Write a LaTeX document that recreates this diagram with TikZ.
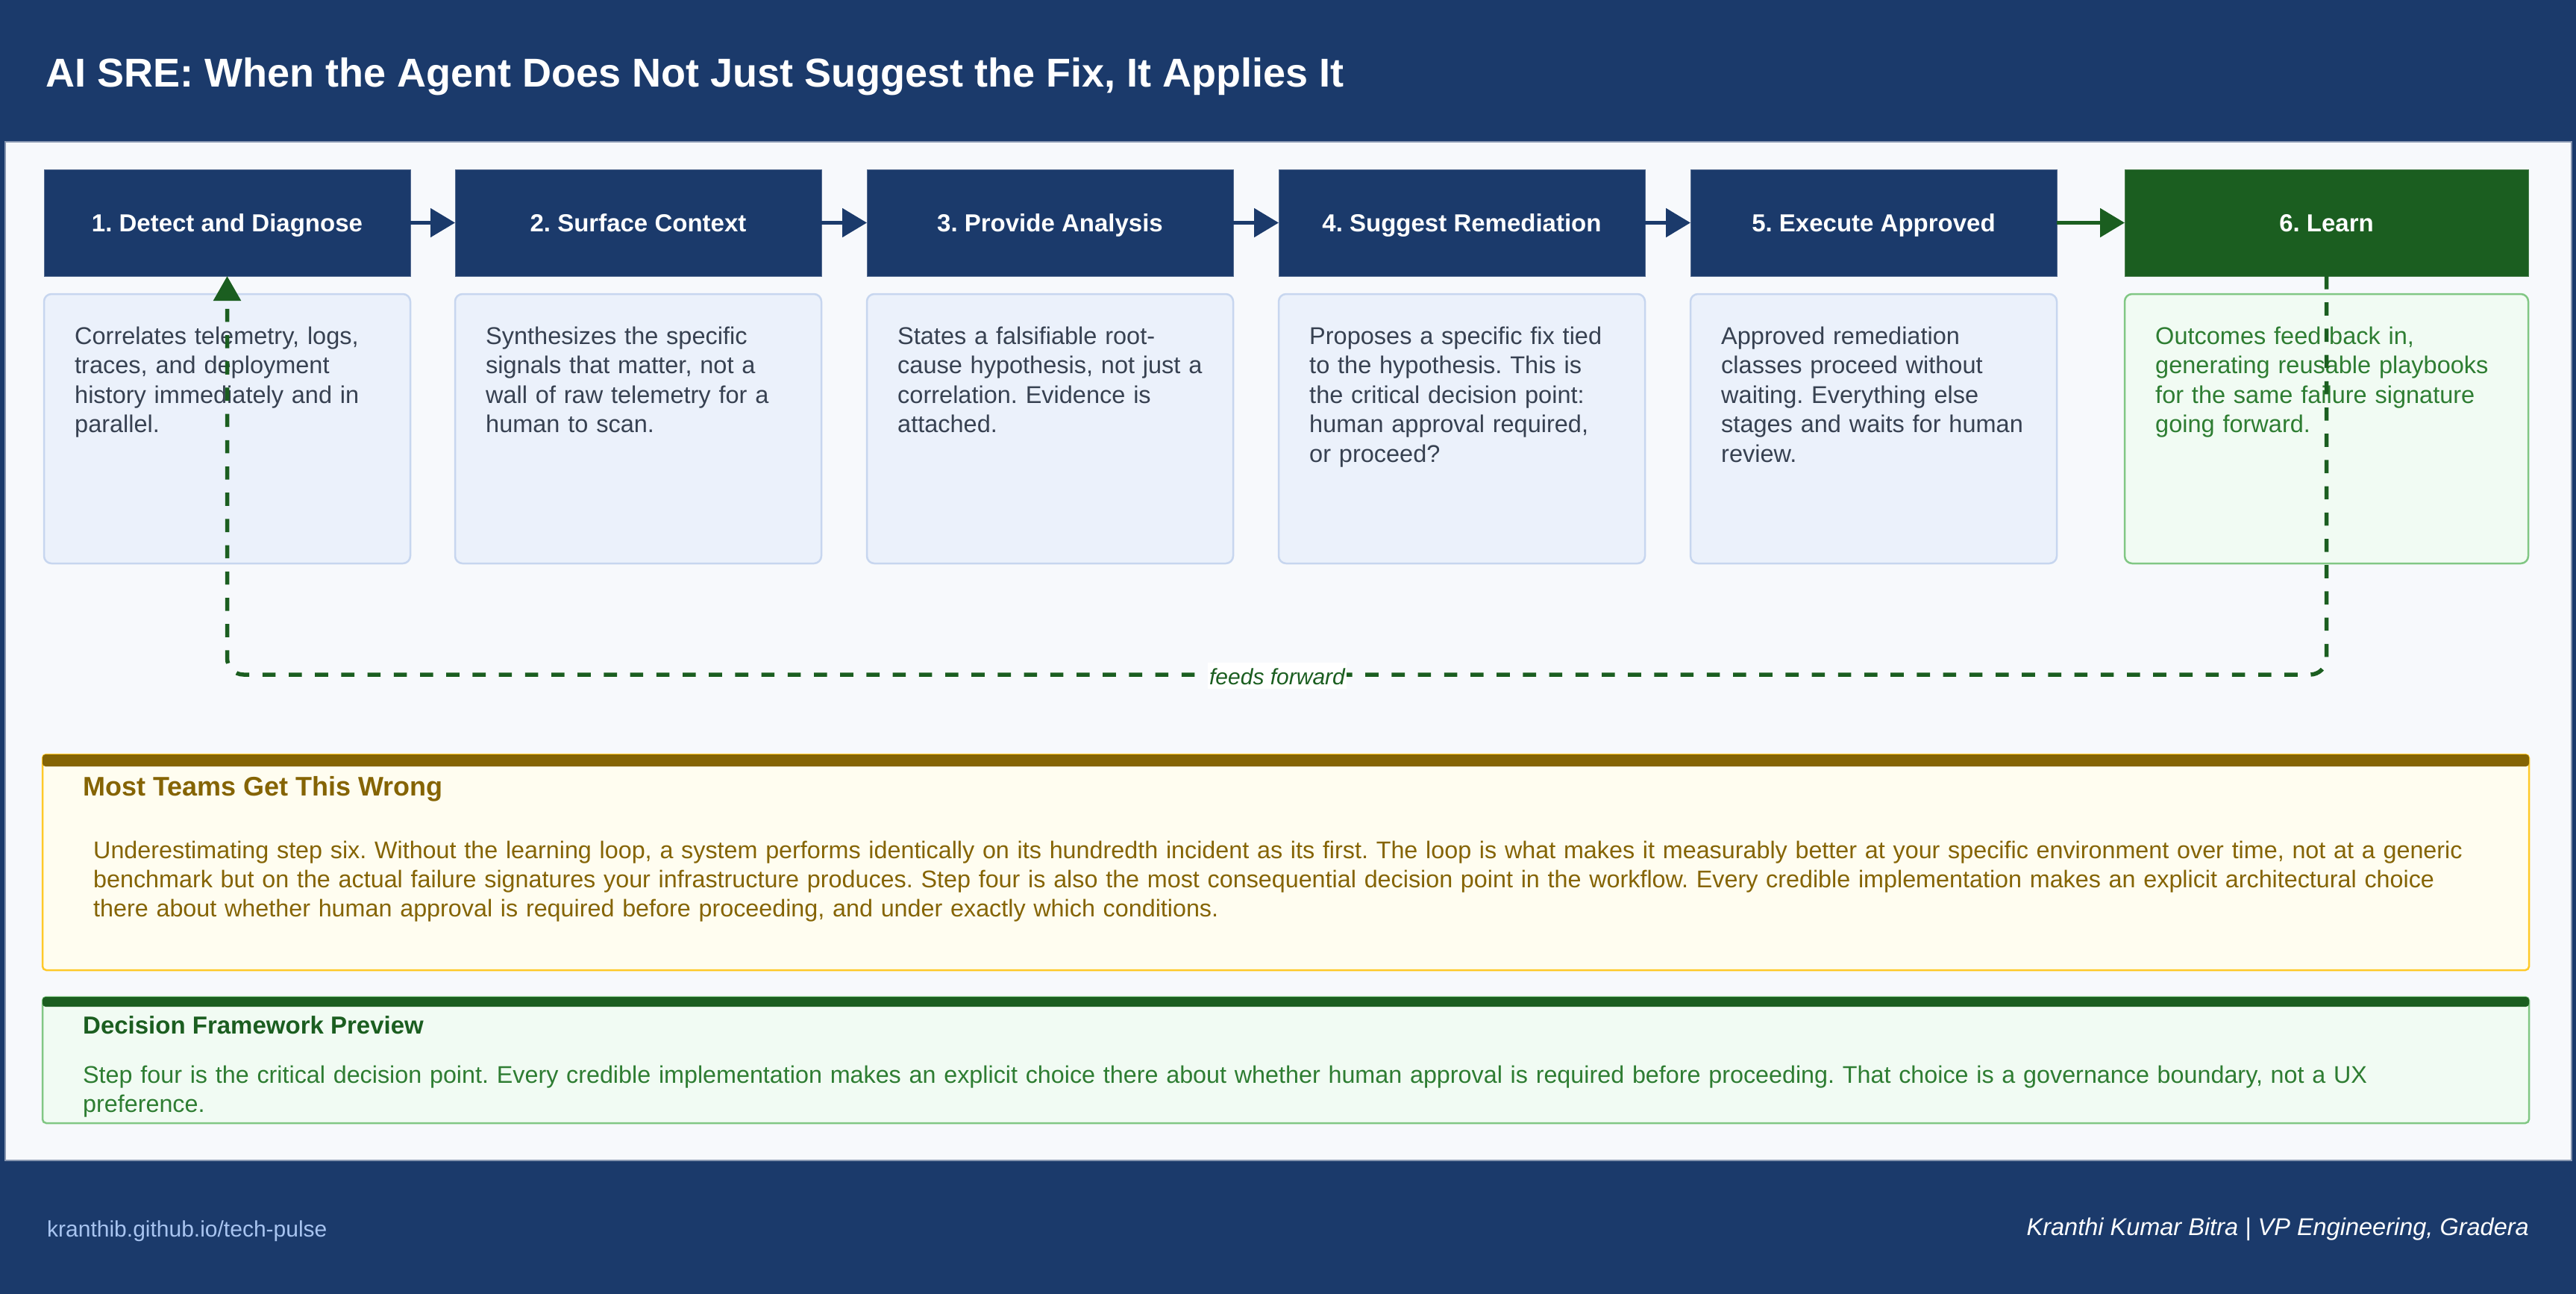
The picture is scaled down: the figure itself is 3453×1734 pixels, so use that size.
\documentclass[tikz,border=0pt]{standalone}
\usepackage{fontspec}
\setmainfont{Liberation Sans}
\usetikzlibrary{arrows.meta,positioning}
\definecolor{navy}{HTML}{1B3A6B}
\definecolor{panel}{HTML}{F7F9FC}
\definecolor{panelline}{HTML}{8796B0}
\definecolor{descfill}{HTML}{EBF1FB}
\definecolor{descline}{HTML}{C7D6EF}
\definecolor{slate}{HTML}{374151}
\definecolor{leafgreen}{HTML}{1B5E20}
\definecolor{textgreen}{HTML}{2E7D32}
\definecolor{greenfill}{HTML}{F1FBF3}
\definecolor{greenline}{HTML}{81C784}
\definecolor{warnbar}{HTML}{856404}
\definecolor{warnfill}{HTML}{FFFDF0}
\definecolor{warnline}{HTML}{FFC928}
\definecolor{urlblue}{HTML}{A8C4F0}
\frenchspacing
\begin{document}
\begin{tikzpicture}[x=1pt,y=-1pt,
  hdr/.style={fill=navy, draw=navy!75!white, line width=1pt, outer sep=0pt, inner sep=0pt,
    minimum width=491pt, minimum height=143pt, anchor=north west, text=white,
    font=\fontsize{33}{40}\selectfont\bfseries, text height=23.6pt, text depth=0pt},
  descbox/.style={fill=descfill, draw=descline, line width=2.5pt, rounded corners=10pt,
    outer sep=0pt, inner sep=0pt, minimum width=491pt, minimum height=361pt, anchor=north west},
  desctext/.style={anchor=base west, inner sep=0pt, text width=470pt, align=left,
    text=slate, font=\fontsize{32.5}{39.6}\selectfont},
  flow/.style={-{Triangle[length=33pt,width=38pt]}, line width=5.5pt, draw=navy},
  loopback/.style={-{Triangle[length=33pt,width=36pt]}, line width=5.5pt, draw=leafgreen,
    dash pattern=on 17.6pt off 17.6pt, rounded corners=22pt},
  notebox/.style={line width=2.5pt, rounded corners=5pt, outer sep=0pt, inner sep=0pt,
    minimum width=3333pt, anchor=north west},
  notetitle/.style={anchor=base west, inner sep=0pt, font=\fontsize{36}{40}\selectfont\bfseries},
  notebody/.style={anchor=base west, inner sep=0pt, text width=3300pt, align=left,
    font=\fontsize{32.3}{39}\selectfont}]
\useasboundingbox (0,0) rectangle (3453,1734);
% frame, header and footer bands
\fill[navy] (0,0) rectangle (3453,1734);
\filldraw[fill=panel, draw=panelline, line width=1.5pt] (7,190) rectangle (3447,1555);
\node[anchor=base west, inner sep=0pt, text=white, font=\fontsize{54}{60}\selectfont\bfseries]
  (title) at (61,117) {AI SRE: When the Agent Does Not Just Suggest the Fix, It Applies It};
% steps 1-5
\foreach \i/\x/\lbl/\txt in {
  1/59/{1. Detect and Diagnose}/{Correlates telemetry, logs,\\traces, and deployment\\history immediately and in\\parallel.},
  2/610/{2. Surface Context}/{Synthesizes the specific\\signals that matter, not a\\wall of raw telemetry for a\\human to scan.},
  3/1162/{3. Provide Analysis}/{States a falsifiable root-\\cause hypothesis, not just a\\correlation. Evidence is\\attached.},
  4/1714/{4. Suggest Remediation}/{Proposes a specific fix tied\\to the hypothesis. This is\\the critical decision point:\\human approval required,\\or proceed?},
  5/2266/{5. Execute Approved}/{Approved remediation\\classes proceed without\\waiting. Everything else\\stages and waits for human\\review.}} {
  \node[hdr] (h\i) at (\x,227) {\lbl};
  \node[descbox] (d\i) at (\x,394) {};
  \node[desctext] (t\i) at ([shift={(41,67)}]d\i.north west) {\txt};
}
% step 6
\node[hdr, fill=leafgreen, draw=leafgreen!80!white, minimum width=541pt] (h6) at (2848,227) {6. Learn};
\node[descbox, fill=greenfill, draw=greenline, minimum width=541pt] (d6) at (2848,394) {};
\node[desctext, text=textgreen] (t6) at ([shift={(41,67)}]d6.north west)
  {Outcomes feed back in,\\generating reusable playbooks\\for the same failure signature\\going forward.};
% arrows
\foreach \i [count=\j from 2] in {1,...,4}
  \draw[flow] (h\i) -- (h\j);
\draw[flow, draw=leafgreen] (h5) -- (h6);
% learning loop
\coordinate (fb) at (1711,904);
\draw[loopback] (h6.south) |- (fb) -| (h1.south);
\node[fill=white, inner sep=0pt, inner xsep=2pt, text height=29pt, text depth=6pt,
  text=leafgreen, font=\fontsize{30}{34}\selectfont\itshape]
  (fbl) at (1712,905.5) {feeds forward};
% most teams get this wrong
\node[notebox, fill=warnfill, draw=warnline, minimum height=289pt] (warn) at (57,1011) {};
\fill[warnbar, rounded corners=4pt] (warn.north west) rectangle ([yshift=-16pt]warn.north east);
\node[notetitle, text=warnbar] (warnt) at (111,1066) {Most Teams Get This Wrong};
\node[notebody, text=warnbar] (warnb) at (125,1150)
  {Underestimating step six. Without the learning loop, a system performs identically on its hundredth incident as its first. The loop is what makes it measurably better at your specific environment over time, not at a generic\\
   benchmark but on the actual failure signatures your infrastructure produces. Step four is also the most consequential decision point in the workflow. Every credible implementation makes an explicit architectural choice\\
   there about whether human approval is required before proceeding, and under exactly which conditions.};
% decision framework preview
\node[notebox, fill=greenfill, draw=greenline, minimum height=169pt] (dec) at (57,1336) {};
\fill[leafgreen, rounded corners=4pt] (dec.north west) rectangle ([yshift=-13pt]dec.north east);
\node[notetitle, text=leafgreen, font=\fontsize{33}{40}\selectfont\bfseries] (dect) at (111,1385) {Decision Framework Preview};
\node[notebody, text=textgreen] (decb) at (111,1451)
  {Step four is the critical decision point. Every credible implementation makes an explicit choice there about whether human approval is required before proceeding. That choice is a governance boundary, not a UX\\
   preference.};
% footer
\node[anchor=base west, inner sep=0pt, text=urlblue, font=\fontsize{30}{34}\selectfont]
  (url) at (63,1657) {kranthib.github.io/tech-pulse};
\node[anchor=base east, inner sep=0pt, text=white, font=\fontsize{32.5}{36}\selectfont\itshape]
  (author) at (3390,1655) {Kranthi Kumar Bitra | VP Engineering, Gradera};
\end{tikzpicture}
\end{document}
